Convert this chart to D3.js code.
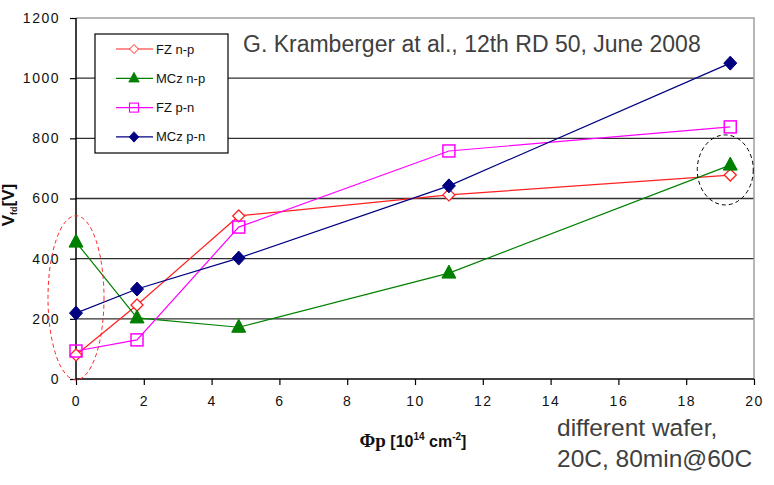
<!DOCTYPE html>
<html>
<head>
<meta charset="utf-8">
<script src="https://cdn.jsdelivr.net/npm/d3@7"></script>
<style>
  body { margin: 0; background: #fff; }
  svg { font-family: Arial, "Liberation Sans", sans-serif; }
</style>
</head>
<body>
<div id="plot"></div>
<script>
// fluence [1e14 cm^-2]
var fluence = [0, 1.8, 4.8, 11, 19.3];

// full depletion voltage [V]
var fzNP  = [80, 246, 542, 612, 678];
var mczNP = [455, 203, 172, 352, 711];
var fzPN  = [93, 130, 505, 758, 838];
var mczPN = [219, 299, 402, 642, 1050];

var seriesNames = ["FZ n-p", "MCz n-p", "FZ p-n", "MCz p-n"];
var xTicks = [0, 2, 4, 6, 8, 10, 12, 14, 16, 18, 20];
var yTicks = [0, 200, 400, 600, 800, 1000, 1200];

var series = [
  { name: seriesNames[0], values: fzNP,  color: "#ff2020", marker: "diamondOpen" },
  { name: seriesNames[1], values: mczNP, color: "#008000", marker: "triangle" },
  { name: seriesNames[2], values: fzPN,  color: "#ff00ff", marker: "square" },
  { name: seriesNames[3], values: mczPN, color: "#000080", marker: "diamond" }
];

var W = 774, H = 485;
var margin = { top: 18, right: 20, bottom: 106, left: 76 },
    width = W - margin.left - margin.right,
    height = H - margin.top - margin.bottom;

var svg = d3.select("#plot").append("svg")
    .attr("width", W)
    .attr("height", H);

var g = svg.append("g")
    .attr("transform", "translate(" + margin.left + "," + margin.top + ")");

var xScale = d3.scaleLinear().domain([0, 20]).range([0, width]),
    yScale = d3.scaleLinear().domain([0, 1200]).range([height, 0]);

// gridlines
g.append("g")
    .selectAll("line")
    .data(yTicks.filter(function (d) { return d > 0 && d < 1200; }))
    .enter().append("line")
    .attr("x1", 0).attr("x2", width)
    .attr("y1", function (d) { return yScale(d); })
    .attr("y2", function (d) { return yScale(d); })
    .attr("stroke", "#303030")
    .attr("stroke-width", 1.4);

// plot area border top + right (grey)
g.append("path")
    .attr("d", "M0,0H" + width + "V" + height)
    .attr("fill", "none")
    .attr("stroke", "#a0a0a0")
    .attr("stroke-width", 1.5);

// axes
var xAxis = d3.axisBottom(xScale).tickValues(xTicks).tickSize(6).tickPadding(11).tickFormat(d3.format("d"));
var yAxis = d3.axisLeft(yScale).tickValues(yTicks).tickSize(6).tickPadding(10).tickFormat(d3.format("d"));

var gx = g.append("g")
    .attr("transform", "translate(0," + height + ")")
    .call(xAxis);
var gy = g.append("g").call(yAxis);

[gx, gy].forEach(function (ax) {
  ax.select(".domain").attr("stroke", "#000").attr("stroke-width", 1.5);
  ax.selectAll(".tick line").attr("stroke", "#000").attr("stroke-width", 1.2);
  ax.selectAll(".tick text")
    .attr("fill", "#111")
    .style("font-family", "Arial, 'Liberation Sans', sans-serif")
    .style("font-size", "14px")
    .style("letter-spacing", "1.5px");
});
gx.select(".domain").attr("d", "M0,0H" + width);
gy.select(".domain").attr("d", "M0," + height + "V0");

svg.append("text")
    .attr("x", 243).attr("y", 52)
    .attr("fill", "#404040")
    .style("font-size", "23px")
    .text("G. Kramberger at al., 12th RD 50, June 2008");

// marker drawing
function drawMarker(sel, type, color) {
  if (type === "diamondOpen") {
    sel.append("path")
      .attr("d", "M0,-6L6,0L0,6L-6,0Z")
      .attr("fill", "#fff").attr("stroke", color).attr("stroke-width", 1.3);
  } else if (type === "triangle") {
    sel.append("path")
      .attr("d", "M0,-8L7,5L-7,5Z")
      .attr("fill", color).attr("stroke", color).attr("stroke-width", 1);
  } else if (type === "square") {
    sel.append("rect")
      .attr("x", -6).attr("y", -6).attr("width", 12).attr("height", 12)
      .attr("fill", "none").attr("stroke", color).attr("stroke-width", 1.5);
  } else {
    sel.append("path")
      .attr("d", "M0,-7L6.5,0L0,7L-6.5,0Z")
      .attr("fill", color).attr("stroke", color).attr("stroke-width", 1);
  }
}

var line = d3.line()
    .x(function (d, i) { return xScale(fluence[i]); })
    .y(function (d) { return yScale(d); });

series.forEach(function (s) {
  g.append("path")
    .datum(s.values)
    .attr("fill", "none")
    .attr("stroke", s.color)
    .attr("stroke-width", 1.2)
    .attr("d", line);
});

series.forEach(function (s) {
  s.values.forEach(function (v, i) {
    var m = g.append("g")
      .attr("transform", "translate(" + xScale(fluence[i]) + "," + yScale(v) + ")");
    drawMarker(m, s.marker, s.color);
  });
});

// highlight ellipses
g.append("ellipse")
    .attr("cx", xScale(0)).attr("cy", yScale(270))
    .attr("rx", 28).attr("ry", 82)
    .attr("fill", "none").attr("stroke", "#ff2020")
    .attr("stroke-width", 1).attr("stroke-dasharray", "4,3");
g.append("ellipse")
    .attr("cx", xScale(19.3) - 5).attr("cy", yScale(695))
    .attr("rx", 28).attr("ry", 35)
    .attr("fill", "none").attr("stroke", "#000")
    .attr("stroke-width", 1).attr("stroke-dasharray", "4,3");

// legend
var legend = svg.append("g").attr("transform", "translate(95,34)");
legend.append("rect")
    .attr("width", 133).attr("height", 119)
    .attr("fill", "#fff").attr("stroke", "#000").attr("stroke-width", 1.2);
series.forEach(function (s, i) {
  var row = legend.append("g").attr("transform", "translate(0," + (15 + i * 29.3) + ")");
  row.append("line")
    .attr("x1", 21).attr("x2", 58)
    .attr("stroke", s.color).attr("stroke-width", 1.2);
  var m = row.append("g").attr("transform", "translate(39,0) scale(0.75)");
  drawMarker(m, s.marker, s.color);
  row.append("text")
    .attr("x", 61).attr("y", 4.5)
    .attr("fill", "#111")
    .style("font-size", "13px")
    .text(s.name);
});

// axis titles
var xl = svg.append("text")
    .attr("x", 413).attr("y", 447)
    .attr("text-anchor", "middle")
    .attr("fill", "#111")
    .style("font-weight", "bold")
    .style("font-size", "16px");
xl.append("tspan").style("font-family", "'Liberation Serif', serif").style("font-size", "19px").text("Φ");
xl.append("tspan").style("font-family", "'Liberation Serif', serif").style("font-size", "19px").text("p");
xl.append("tspan").text(" [10");
xl.append("tspan").attr("dy", -7).style("font-size", "10px").text("14");
xl.append("tspan").attr("dy", 7).text(" cm");
xl.append("tspan").attr("dy", -7).style("font-size", "10px").text("-2");
xl.append("tspan").attr("dy", 7).text("]");

var yl = svg.append("text")
    .attr("transform", "translate(14,205) rotate(-90)")
    .attr("text-anchor", "middle")
    .attr("fill", "#111")
    .style("font-weight", "bold")
    .style("font-size", "17px");
yl.append("tspan").text("V");
yl.append("tspan").attr("dy", 3).style("font-size", "9px").text("fd");
yl.append("tspan").attr("dy", -3).text("[V]");

// note
var note = svg.append("text")
    .attr("fill", "#404040")
    .style("font-size", "24.5px");
note.append("tspan").attr("x", 557).attr("y", 436).text("different wafer,");
note.append("tspan").attr("x", 557).attr("y", 467).text("20C, 80min@60C");
</script>
</body>
</html>
